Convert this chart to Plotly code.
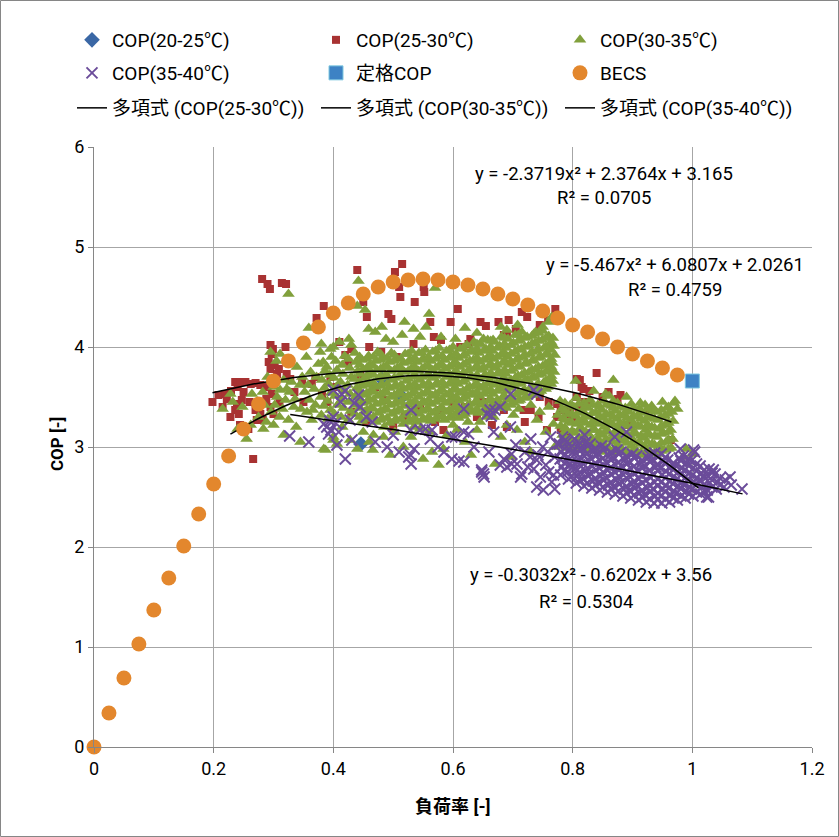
import numpy as np
import plotly.graph_objects as go

# ---- BECS curve and rated point ----
becs_load = [0.0, 0.025, 0.05, 0.075, 0.1, 0.125, 0.15, 0.175, 0.2, 0.225,
             0.25, 0.275, 0.3, 0.325, 0.35, 0.375, 0.4, 0.425, 0.45, 0.475,
             0.5, 0.525, 0.55, 0.575, 0.6, 0.625, 0.65, 0.675, 0.7, 0.725,
             0.75, 0.775, 0.8, 0.825, 0.85, 0.875, 0.9, 0.925, 0.95, 0.975]
becs_cop = [0.0, 0.34, 0.69, 1.03, 1.37, 1.69, 2.01, 2.33, 2.63, 2.91,
            3.18, 3.43, 3.66, 3.86, 4.04, 4.2, 4.34, 4.44, 4.53, 4.6,
            4.65, 4.67, 4.68, 4.67, 4.65, 4.62, 4.58, 4.53, 4.48, 4.42,
            4.36, 4.29, 4.22, 4.15, 4.08, 4.0, 3.93, 3.86, 3.79, 3.72]
rated_load = [1.0]
rated_cop = [3.66]

# ---- measured COP by outdoor temperature band (load ratio, COP) ----
cop20_25 = [(0.481, 3.68), (0.515, 3.50), (0.446, 3.03)]

cop25_30 = [
    (0.198, 3.45), (0.208, 3.52), (0.219, 3.53), (0.222, 3.48), (0.229, 3.56), (0.236, 3.65),
    (0.240, 3.60), (0.245, 3.65), (0.253, 3.65), (0.262, 3.63), (0.270, 3.64), (0.278, 3.62),
    (0.239, 3.43), (0.247, 3.47), (0.236, 3.37), (0.242, 3.33), (0.270, 3.37), (0.278, 3.33),
    (0.272, 3.27), (0.282, 3.27), (0.297, 3.53), (0.295, 3.40), (0.300, 3.33), (0.288, 3.48),
    (0.295, 4.02), (0.299, 3.98), (0.297, 3.93), (0.292, 3.85), (0.302, 3.82), (0.309, 3.78),
    (0.295, 3.78), (0.306, 3.73), (0.320, 4.00), (0.322, 3.73), (0.328, 3.68), (0.348, 3.65),
    (0.364, 3.63), (0.370, 3.70), (0.381, 3.52), (0.395, 3.70), (0.390, 3.45), (0.420, 3.92),
    (0.425, 3.85), (0.266, 2.88), (0.215, 3.40), (0.228, 3.30), (0.250, 3.55), (0.260, 3.45),
    (0.290, 3.60), (0.310, 3.45), (0.335, 3.55), (0.350, 3.45), (0.244, 3.22), (0.258, 3.18),
    (0.281, 4.68), (0.290, 4.63), (0.294, 4.58), (0.314, 4.64), (0.321, 4.63),
    (0.515, 4.83), (0.503, 4.75), (0.440, 4.77), (0.510, 4.60), (0.512, 4.50), (0.536, 4.45),
    (0.551, 4.60), (0.552, 4.55), (0.608, 4.38), (0.450, 4.45), (0.456, 4.30), (0.492, 4.33),
    (0.497, 4.28), (0.384, 4.41), (0.372, 4.29), (0.562, 4.25), (0.596, 4.25), (0.646, 4.25),
    (0.655, 4.21), (0.676, 4.25), (0.693, 4.27), (0.715, 4.35), (0.724, 4.30), (0.759, 4.27),
    (0.771, 4.38), (0.568, 4.10), (0.580, 4.07), (0.629, 4.08), (0.690, 4.12), (0.612, 4.00),
    (0.626, 4.03), (0.685, 4.12), (0.534, 4.03), (0.506, 3.90), (0.460, 4.00), (0.480, 3.95),
    (0.430, 3.98), (0.410, 4.05), (0.745, 4.22), (0.705, 4.18),
    (0.807, 3.68), (0.815, 3.60), (0.840, 3.74), (0.812, 3.67), (0.818, 3.58), (0.828, 3.56),
    (0.880, 3.52), (0.875, 3.48), (0.774, 3.43), (0.790, 3.33), (0.800, 3.30), (0.774, 3.30),
    (0.780, 3.17), (0.757, 3.17), (0.743, 3.30), (0.807, 3.50), (0.820, 3.45), (0.824, 3.43),
    (0.810, 3.40), (0.790, 3.37), (0.793, 3.13), (0.964, 3.07), (0.893, 3.22), (0.927, 3.38),
    (0.796, 3.37), (0.757, 3.65), (0.780, 3.37), (0.782, 3.17), (0.718, 3.37), (0.730, 3.37),
    (0.685, 3.37), (0.690, 3.20), (0.579, 3.37), (0.584, 3.17), (0.570, 3.25), (0.484, 3.47),
    (0.500, 3.20), (0.520, 3.30), (0.455, 3.25), (0.430, 3.35), (0.620, 3.40), (0.650, 3.45),
    (0.720, 3.25), (0.760, 3.45), (0.745, 3.50), (0.850, 3.50), (0.860, 3.55), (0.665, 3.22),
    (0.640, 3.30), (0.600, 3.45), (0.545, 3.38), (0.470, 3.60), (0.445, 3.72), (0.405, 3.60),
]

cop30_35 = [
    # dense band, load 0.38-0.77
    (0.380, 3.32), (0.384, 3.41), (0.379, 3.50), (0.385, 3.59), (0.381, 3.67), (0.386, 3.76), (0.383, 3.85),
    (0.391, 3.28), (0.395, 3.37), (0.390, 3.46), (0.396, 3.54), (0.392, 3.63), (0.394, 3.72), (0.389, 3.80), (0.397, 3.90),
    (0.402, 3.33), (0.407, 3.42), (0.403, 3.51), (0.405, 3.60), (0.401, 3.69), (0.406, 3.77), (0.404, 3.86),
    (0.413, 3.30), (0.417, 3.39), (0.414, 3.47), (0.418, 3.56), (0.412, 3.65), (0.416, 3.73), (0.415, 3.82), (0.419, 3.91),
    (0.425, 3.27), (0.429, 3.36), (0.426, 3.45), (0.428, 3.53), (0.424, 3.62), (0.430, 3.70), (0.427, 3.79), (0.425, 3.88),
    (0.436, 3.33), (0.440, 3.42), (0.437, 3.50), (0.439, 3.59), (0.435, 3.68), (0.441, 3.76), (0.438, 3.85), (0.436, 3.94),
    (0.448, 3.26), (0.452, 3.35), (0.449, 3.44), (0.451, 3.52), (0.447, 3.61), (0.453, 3.69), (0.450, 3.78), (0.448, 3.87),
    (0.459, 3.30), (0.463, 3.39), (0.460, 3.48), (0.462, 3.56), (0.458, 3.65), (0.464, 3.74), (0.461, 3.82), (0.459, 3.91),
    (0.471, 3.25), (0.475, 3.34), (0.472, 3.43), (0.474, 3.51), (0.470, 3.60), (0.476, 3.69), (0.473, 3.77), (0.471, 3.86), (0.474, 3.95),
    (0.482, 3.29), (0.486, 3.38), (0.483, 3.46), (0.485, 3.55), (0.481, 3.63), (0.487, 3.72), (0.484, 3.80), (0.482, 3.89),
    (0.494, 3.24), (0.498, 3.33), (0.495, 3.42), (0.497, 3.50), (0.493, 3.59), (0.499, 3.67), (0.496, 3.76), (0.494, 3.85), (0.497, 3.94),
    (0.505, 3.28), (0.509, 3.37), (0.506, 3.45), (0.508, 3.54), (0.504, 3.62), (0.510, 3.71), (0.507, 3.79), (0.505, 3.88),
    (0.517, 3.23), (0.521, 3.32), (0.518, 3.41), (0.520, 3.49), (0.516, 3.58), (0.522, 3.66), (0.519, 3.75), (0.517, 3.84), (0.520, 3.93),
    (0.528, 3.27), (0.532, 3.36), (0.529, 3.44), (0.531, 3.53), (0.527, 3.61), (0.533, 3.70), (0.530, 3.78), (0.528, 3.87), (0.531, 3.96),
    (0.540, 3.25), (0.544, 3.33), (0.541, 3.42), (0.543, 3.50), (0.539, 3.59), (0.545, 3.67), (0.542, 3.76), (0.540, 3.85), (0.543, 3.94),
    (0.551, 3.28), (0.555, 3.37), (0.552, 3.45), (0.554, 3.54), (0.550, 3.62), (0.556, 3.71), (0.553, 3.80), (0.551, 3.88), (0.554, 3.97),
    (0.563, 3.26), (0.567, 3.34), (0.564, 3.43), (0.566, 3.51), (0.562, 3.60), (0.568, 3.69), (0.565, 3.77), (0.563, 3.86), (0.566, 3.95),
    (0.574, 3.30), (0.578, 3.38), (0.575, 3.47), (0.577, 3.55), (0.573, 3.64), (0.579, 3.73), (0.576, 3.81), (0.574, 3.90), (0.577, 3.99),
    (0.586, 3.27), (0.590, 3.35), (0.587, 3.44), (0.589, 3.52), (0.585, 3.61), (0.591, 3.70), (0.588, 3.78), (0.586, 3.87), (0.589, 3.96),
    (0.597, 3.31), (0.601, 3.39), (0.598, 3.48), (0.600, 3.57), (0.596, 3.65), (0.602, 3.74), (0.599, 3.82), (0.597, 3.91), (0.600, 4.00),
    (0.609, 3.29), (0.613, 3.37), (0.610, 3.46), (0.612, 3.54), (0.608, 3.63), (0.614, 3.71), (0.611, 3.80), (0.609, 3.89), (0.612, 3.98),
    (0.620, 3.33), (0.624, 3.41), (0.621, 3.50), (0.623, 3.58), (0.619, 3.67), (0.625, 3.76), (0.622, 3.84), (0.620, 3.93), (0.623, 4.02),
    (0.632, 3.36), (0.636, 3.44), (0.633, 3.53), (0.635, 3.61), (0.631, 3.70), (0.637, 3.79), (0.634, 3.87), (0.632, 3.96), (0.635, 4.05),
    (0.643, 3.34), (0.647, 3.42), (0.644, 3.51), (0.646, 3.59), (0.642, 3.68), (0.648, 3.77), (0.645, 3.85), (0.643, 3.94), (0.646, 4.03),
    (0.655, 3.38), (0.659, 3.46), (0.656, 3.55), (0.658, 3.63), (0.654, 3.72), (0.660, 3.81), (0.657, 3.89), (0.655, 3.98), (0.658, 4.07),
    (0.666, 3.36), (0.670, 3.44), (0.667, 3.53), (0.669, 3.62), (0.665, 3.70), (0.671, 3.79), (0.668, 3.88), (0.666, 3.96), (0.669, 4.05),
    (0.678, 3.41), (0.682, 3.49), (0.679, 3.58), (0.681, 3.66), (0.677, 3.75), (0.683, 3.84), (0.680, 3.92), (0.678, 4.01), (0.681, 4.10),
    (0.689, 3.39), (0.693, 3.47), (0.690, 3.56), (0.692, 3.65), (0.688, 3.73), (0.694, 3.82), (0.691, 3.90), (0.689, 3.99), (0.692, 4.08),
    (0.701, 3.44), (0.705, 3.52), (0.702, 3.61), (0.704, 3.69), (0.700, 3.78), (0.706, 3.87), (0.703, 3.95), (0.701, 4.04), (0.704, 4.12),
    (0.712, 3.47), (0.716, 3.55), (0.713, 3.64), (0.715, 3.72), (0.711, 3.81), (0.717, 3.90), (0.714, 3.98), (0.712, 4.07), (0.715, 4.15),
    (0.724, 3.50), (0.728, 3.58), (0.725, 3.67), (0.727, 3.75), (0.723, 3.84), (0.729, 3.93), (0.726, 4.01), (0.724, 4.10),
    (0.735, 3.53), (0.739, 3.61), (0.736, 3.70), (0.738, 3.78), (0.734, 3.87), (0.740, 3.96), (0.737, 4.04), (0.735, 4.13),
    (0.747, 3.56), (0.751, 3.64), (0.748, 3.73), (0.750, 3.81), (0.746, 3.90), (0.752, 3.99), (0.749, 4.07), (0.750, 4.16),
    (0.758, 3.60), (0.762, 3.68), (0.759, 3.77), (0.761, 3.85), (0.757, 3.94), (0.763, 4.02), (0.760, 4.11),
    (0.767, 3.66), (0.769, 3.75), (0.766, 3.84), (0.770, 3.92), (0.768, 4.01), (0.767, 4.09),
    # high-load group, load 0.78-0.97
    (0.781, 3.04), (0.783, 3.12), (0.780, 3.21), (0.784, 3.29), (0.782, 3.38), (0.779, 3.46),
    (0.792, 2.99), (0.795, 3.08), (0.791, 3.16), (0.794, 3.25), (0.793, 3.33), (0.796, 3.42),
    (0.804, 2.97), (0.806, 3.06), (0.803, 3.14), (0.807, 3.23), (0.805, 3.31), (0.802, 3.40), (0.806, 3.49),
    (0.815, 3.02), (0.818, 3.10), (0.814, 3.19), (0.817, 3.27), (0.816, 3.36), (0.819, 3.44),
    (0.827, 2.96), (0.829, 3.05), (0.826, 3.13), (0.830, 3.22), (0.828, 3.30), (0.825, 3.39), (0.829, 3.47),
    (0.838, 3.00), (0.841, 3.08), (0.837, 3.17), (0.840, 3.25), (0.839, 3.34), (0.842, 3.42),
    (0.850, 2.95), (0.852, 3.03), (0.849, 3.12), (0.853, 3.20), (0.851, 3.29), (0.848, 3.37), (0.852, 3.46),
    (0.861, 2.98), (0.864, 3.07), (0.860, 3.15), (0.863, 3.24), (0.862, 3.32), (0.865, 3.41), (0.861, 3.51),
    (0.873, 2.94), (0.875, 3.02), (0.872, 3.11), (0.876, 3.19), (0.874, 3.28), (0.871, 3.36), (0.875, 3.44),
    (0.884, 2.97), (0.887, 3.06), (0.883, 3.14), (0.886, 3.23), (0.885, 3.31), (0.888, 3.39),
    (0.896, 2.93), (0.898, 3.01), (0.895, 3.10), (0.899, 3.18), (0.897, 3.27), (0.894, 3.35), (0.898, 3.43),
    (0.907, 2.96), (0.910, 3.04), (0.906, 3.13), (0.909, 3.21), (0.908, 3.30), (0.911, 3.38),
    (0.919, 2.92), (0.921, 3.00), (0.918, 3.09), (0.922, 3.17), (0.920, 3.26), (0.917, 3.34), (0.921, 3.42),
    (0.930, 2.95), (0.933, 3.03), (0.929, 3.12), (0.932, 3.20), (0.931, 3.29), (0.934, 3.37),
    (0.942, 2.93), (0.944, 3.01), (0.941, 3.10), (0.945, 3.18), (0.943, 3.27), (0.940, 3.35),
    (0.953, 2.97), (0.956, 3.05), (0.952, 3.14), (0.955, 3.22), (0.954, 3.31), (0.957, 3.39),
    (0.965, 2.99), (0.967, 3.08), (0.964, 3.17), (0.968, 3.26), (0.966, 3.35), (0.969, 3.44),
    (0.805, 3.66), (0.855, 3.53), (0.868, 3.67), (0.913, 3.44), (0.932, 3.41), (0.971, 3.46),
    (0.835, 3.56), (0.890, 3.50), (0.950, 3.45), (0.975, 3.38), (0.990, 2.98), (1.000, 2.93), (0.985, 2.90),
    # low-load scatter, load 0.21-0.40
    (0.228, 3.53), (0.264, 3.53), (0.282, 3.55), (0.283, 3.18), (0.296, 3.35), (0.300, 3.60), (0.306, 3.50),
    (0.311, 3.57), (0.317, 3.67), (0.311, 3.93), (0.305, 3.86), (0.320, 3.47), (0.327, 3.55), (0.334, 3.40),
    (0.339, 3.80), (0.344, 3.62), (0.346, 3.38), (0.356, 3.35), (0.360, 3.47), (0.364, 3.27), (0.370, 3.42),
    (0.375, 3.83), (0.378, 3.95), (0.372, 3.70), (0.395, 3.98), (0.387, 2.97), (0.400, 3.07), (0.348, 3.70),
    (0.295, 3.95), (0.317, 3.12), (0.325, 3.27), (0.338, 3.20), (0.352, 3.55), (0.362, 3.75), (0.285, 3.42),
    (0.275, 3.30), (0.262, 3.22), (0.248, 3.40), (0.240, 3.18), (0.255, 3.08), (0.232, 3.45), (0.310, 3.30),
    (0.330, 3.65), (0.355, 3.90), (0.368, 3.58), (0.300, 3.22), (0.290, 3.70), (0.345, 3.05), (0.215, 3.38),
    (0.288, 3.25), (0.302, 3.42), (0.315, 3.38), (0.322, 3.58), (0.336, 3.48), (0.358, 3.62), (0.366, 3.37),
    # upper outliers
    (0.325, 4.53), (0.442, 4.66), (0.359, 4.19), (0.570, 4.59), (0.560, 4.33), (0.440, 4.41), (0.453, 4.37),
    (0.519, 4.25), (0.459, 4.18), (0.470, 4.15), (0.481, 4.20), (0.426, 4.08), (0.430, 4.02), (0.515, 4.12),
    (0.534, 4.18), (0.545, 4.10), (0.555, 4.20), (0.620, 4.19), (0.604, 4.08), (0.651, 4.08), (0.667, 4.07),
    (0.690, 4.17), (0.738, 4.15), (0.750, 4.20), (0.760, 4.25), (0.765, 4.30), (0.708, 4.22), (0.680, 4.20),
    (0.640, 4.14), (0.580, 4.10), (0.400, 4.00), (0.410, 4.05), (0.380, 4.03), (0.500, 4.05), (0.488, 4.08),
    # lower scatter, load 0.38-0.78
    (0.384, 2.98), (0.400, 3.10), (0.406, 3.03), (0.428, 3.07), (0.440, 2.98), (0.466, 2.97), (0.467, 3.12),
    (0.484, 3.10), (0.485, 3.20), (0.503, 3.15), (0.517, 3.00), (0.530, 3.10), (0.545, 3.18), (0.565, 2.95),
    (0.576, 2.82), (0.584, 2.98), (0.590, 3.12), (0.607, 3.17), (0.620, 3.05), (0.640, 3.17), (0.645, 3.25),
    (0.668, 3.30), (0.670, 2.83), (0.680, 3.10), (0.690, 3.22), (0.701, 3.32), (0.707, 3.17), (0.720, 3.05),
    (0.740, 3.27), (0.745, 3.35), (0.755, 3.15), (0.768, 3.23), (0.775, 3.32), (0.760, 3.40), (0.730, 3.42),
    (0.710, 3.38), (0.655, 3.30), (0.625, 3.25), (0.600, 3.22), (0.560, 3.15), (0.535, 3.20), (0.450, 3.15),
    (0.415, 3.20), (0.460, 3.05), (0.495, 2.92), (0.550, 2.88), (0.630, 2.92), (0.695, 2.90), (0.730, 2.95),
    (0.770, 3.00),
]

# further 30-35 readings in the dense bands, grouped by load ratio: (load, [COP values])
cop30_35_dense = [
    (0.444, [3.30, 3.39, 3.48, 3.56, 3.65, 3.73, 3.82, 3.90]),
    (0.456, [3.28, 3.37, 3.45, 3.54, 3.62, 3.71, 3.79, 3.88]),
    (0.467, [3.30, 3.38, 3.47, 3.55, 3.64, 3.72, 3.81, 3.90]),
    (0.479, [3.27, 3.36, 3.44, 3.53, 3.61, 3.70, 3.78, 3.87, 3.93]),
    (0.490, [3.29, 3.37, 3.46, 3.54, 3.63, 3.71, 3.80, 3.89]),
    (0.502, [3.26, 3.35, 3.43, 3.52, 3.60, 3.69, 3.77, 3.86, 3.92]),
    (0.513, [3.28, 3.36, 3.45, 3.53, 3.62, 3.70, 3.79, 3.88]),
    (0.525, [3.25, 3.34, 3.42, 3.51, 3.59, 3.68, 3.76, 3.85, 3.93]),
    (0.536, [3.29, 3.37, 3.46, 3.55, 3.63, 3.72, 3.80, 3.89]),
    (0.548, [3.27, 3.36, 3.44, 3.53, 3.61, 3.70, 3.78, 3.87, 3.94]),
    (0.559, [3.30, 3.38, 3.47, 3.55, 3.64, 3.73, 3.81, 3.90]),
    (0.571, [3.28, 3.36, 3.45, 3.53, 3.62, 3.71, 3.79, 3.88, 3.96]),
    (0.582, [3.31, 3.39, 3.48, 3.57, 3.65, 3.74, 3.82, 3.91]),
    (0.594, [3.29, 3.37, 3.46, 3.54, 3.63, 3.72, 3.80, 3.89, 3.97]),
    (0.605, [3.33, 3.41, 3.50, 3.58, 3.67, 3.76, 3.84, 3.93]),
    (0.617, [3.31, 3.39, 3.48, 3.56, 3.65, 3.74, 3.82, 3.91, 3.99]),
    (0.628, [3.35, 3.43, 3.52, 3.60, 3.69, 3.78, 3.86, 3.95]),
    (0.640, [3.38, 3.46, 3.55, 3.63, 3.72, 3.81, 3.89, 3.98, 4.03]),
    (0.651, [3.36, 3.44, 3.53, 3.61, 3.70, 3.79, 3.87, 3.96]),
    (0.663, [3.40, 3.48, 3.57, 3.65, 3.74, 3.83, 3.91, 4.00, 4.06]),
    (0.674, [3.39, 3.47, 3.56, 3.64, 3.73, 3.82, 3.90, 3.99]),
    (0.686, [3.43, 3.51, 3.60, 3.68, 3.77, 3.86, 3.94, 4.03, 4.09]),
    (0.697, [3.42, 3.50, 3.59, 3.67, 3.76, 3.85, 3.93, 4.02]),
    (0.709, [3.46, 3.54, 3.63, 3.71, 3.80, 3.89, 3.97, 4.06, 4.12]),
    (0.720, [3.49, 3.57, 3.66, 3.74, 3.83, 3.92, 4.00, 4.09]),
    (0.732, [3.52, 3.60, 3.69, 3.77, 3.86, 3.95, 4.03, 4.11]),
    (0.743, [3.55, 3.63, 3.72, 3.80, 3.89, 3.98, 4.06, 4.14]),
    (0.755, [3.58, 3.66, 3.75, 3.83, 3.92, 4.00, 4.09]),
    (0.764, [3.63, 3.71, 3.80, 3.88, 3.97, 4.05]),
    (0.787, [3.02, 3.10, 3.19, 3.27, 3.36, 3.44]),
    (0.799, [2.99, 3.07, 3.16, 3.24, 3.33, 3.41]),
    (0.810, [3.00, 3.09, 3.17, 3.26, 3.34, 3.43]),
    (0.822, [2.98, 3.07, 3.15, 3.24, 3.32, 3.41]),
    (0.833, [3.00, 3.08, 3.17, 3.25, 3.34, 3.42]),
    (0.845, [2.97, 3.06, 3.14, 3.23, 3.31, 3.40]),
    (0.856, [2.99, 3.08, 3.16, 3.25, 3.33, 3.42]),
    (0.868, [2.96, 3.05, 3.13, 3.22, 3.30, 3.39, 3.46]),
    (0.879, [2.98, 3.07, 3.15, 3.24, 3.32, 3.40]),
    (0.891, [2.95, 3.04, 3.12, 3.21, 3.29, 3.37]),
    (0.902, [2.97, 3.06, 3.14, 3.23, 3.31, 3.39]),
    (0.914, [2.94, 3.03, 3.11, 3.20, 3.28, 3.36]),
    (0.925, [2.96, 3.05, 3.13, 3.22, 3.30, 3.38]),
    (0.937, [2.94, 3.02, 3.11, 3.19, 3.28, 3.36]),
    (0.948, [2.96, 3.04, 3.13, 3.21, 3.30, 3.37]),
    (0.960, [2.98, 3.07, 3.15, 3.24, 3.33, 3.40]),
]

cop35_40 = [
    # high-load cluster
    (0.780, 2.72), (0.782, 2.80), (0.779, 2.88), (0.781, 2.95), (0.778, 3.03), (0.783, 3.10),
    (0.793, 2.68), (0.791, 2.75), (0.795, 2.83), (0.792, 2.90), (0.794, 2.98), (0.790, 3.05),
    (0.806, 2.64), (0.808, 2.71), (0.804, 2.79), (0.807, 2.86), (0.805, 2.94), (0.809, 3.01), (0.803, 3.08),
    (0.819, 2.61), (0.817, 2.68), (0.821, 2.76), (0.818, 2.83), (0.820, 2.91), (0.816, 2.98), (0.822, 3.05),
    (0.832, 2.59), (0.834, 2.66), (0.830, 2.73), (0.833, 2.81), (0.831, 2.88), (0.835, 2.96), (0.829, 3.03),
    (0.845, 2.57), (0.843, 2.64), (0.847, 2.71), (0.844, 2.79), (0.846, 2.86), (0.842, 2.93), (0.848, 3.01),
    (0.858, 2.55), (0.860, 2.62), (0.856, 2.69), (0.859, 2.77), (0.857, 2.84), (0.861, 2.91), (0.855, 2.99),
    (0.871, 2.53), (0.869, 2.60), (0.873, 2.67), (0.870, 2.75), (0.872, 2.82), (0.868, 2.89), (0.874, 2.97),
    (0.884, 2.51), (0.886, 2.58), (0.882, 2.65), (0.885, 2.72), (0.883, 2.80), (0.887, 2.87), (0.881, 2.95),
    (0.897, 2.49), (0.895, 2.56), (0.899, 2.63), (0.896, 2.70), (0.898, 2.78), (0.894, 2.85), (0.900, 2.93),
    (0.910, 2.47), (0.912, 2.54), (0.908, 2.61), (0.911, 2.68), (0.909, 2.76), (0.913, 2.83), (0.907, 2.91),
    (0.923, 2.45), (0.921, 2.52), (0.925, 2.59), (0.922, 2.67), (0.924, 2.74), (0.920, 2.81), (0.926, 2.89),
    (0.936, 2.44), (0.938, 2.51), (0.934, 2.58), (0.937, 2.65), (0.935, 2.72), (0.939, 2.80), (0.933, 2.87), (0.937, 2.94),
    (0.949, 2.44), (0.947, 2.51), (0.951, 2.58), (0.948, 2.65), (0.950, 2.72), (0.946, 2.79), (0.952, 2.86), (0.948, 2.93),
    (0.962, 2.45), (0.964, 2.52), (0.960, 2.59), (0.963, 2.66), (0.961, 2.73), (0.965, 2.80), (0.959, 2.87),
    (0.975, 2.47), (0.973, 2.54), (0.977, 2.61), (0.974, 2.68), (0.976, 2.75), (0.972, 2.82), (0.978, 2.89),
    (0.988, 2.49), (0.990, 2.56), (0.986, 2.63), (0.989, 2.70), (0.987, 2.77), (0.991, 2.84), (0.985, 2.91),
    (1.001, 2.51), (0.999, 2.58), (1.003, 2.65), (1.000, 2.72), (1.002, 2.79), (0.998, 2.86), (1.004, 2.95),
    (1.014, 2.53), (1.016, 2.60), (1.012, 2.67), (1.015, 2.74), (1.013, 2.81),
    (1.027, 2.50), (1.025, 2.57), (1.029, 2.64), (1.026, 2.71), (1.028, 2.78),
    (1.040, 2.58), (1.042, 2.65), (1.038, 2.73), (1.053, 2.60), (1.055, 2.67),
    (1.063, 2.70), (1.065, 2.62), (1.083, 2.58), (1.035, 2.77), (1.024, 2.50), (1.002, 2.97),
    (0.890, 3.15), (0.870, 3.10), (0.820, 3.12), (0.980, 2.98),
    # load 0.70-0.78
    (0.705, 3.02), (0.713, 2.70), (0.729, 2.90), (0.740, 2.87), (0.746, 2.70), (0.751, 2.57),
    (0.763, 3.10), (0.774, 3.03), (0.740, 2.60), (0.715, 2.73), (0.698, 2.83), (0.720, 2.95),
    (0.735, 2.78), (0.755, 2.82), (0.765, 2.65), (0.770, 2.90), (0.760, 2.75), (0.750, 3.00),
    (0.730, 3.08), (0.770, 2.58), (0.758, 2.95), (0.742, 2.92), (0.725, 2.80), (0.768, 2.72),
    # scattered, load 0.32-0.70
    (0.327, 3.11), (0.359, 3.05), (0.406, 3.02), (0.420, 2.88), (0.431, 3.07), (0.428, 3.27),
    (0.389, 3.20), (0.394, 3.26), (0.400, 3.30), (0.404, 3.24), (0.396, 3.17), (0.409, 3.15),
    (0.384, 3.23), (0.392, 3.13), (0.414, 3.53), (0.420, 3.56), (0.412, 3.45), (0.442, 3.52),
    (0.400, 3.57), (0.435, 3.44), (0.445, 3.40), (0.530, 3.37), (0.526, 2.90), (0.530, 2.83),
    (0.554, 3.18), (0.565, 3.17), (0.598, 3.10), (0.618, 3.38), (0.626, 3.13), (0.598, 2.88),
    (0.618, 2.85), (0.648, 2.75), (0.657, 3.33), (0.670, 3.37), (0.668, 3.15), (0.696, 3.53),
    (0.735, 3.57), (0.696, 3.20), (0.651, 2.73), (0.679, 2.82), (0.698, 2.93), (0.529, 3.17),
    (0.545, 3.17), (0.562, 3.08), (0.604, 3.10), (0.618, 3.15), (0.529, 2.92), (0.535, 2.98),
    (0.610, 2.86), (0.648, 2.77), (0.652, 2.70), (0.685, 2.88), (0.690, 2.80), (0.707, 2.83),
    (0.662, 3.37), (0.664, 3.31), (0.679, 3.40), (0.740, 3.53), (0.470, 3.05), (0.490, 3.00),
    (0.500, 3.12), (0.510, 2.95), (0.575, 3.00), (0.585, 2.95), (0.635, 3.00), (0.660, 2.95),
    (0.455, 3.30), (0.465, 3.25),
]

# further 35-40 readings in the high-load cluster: (load, [COP values])
cop35_40_dense = [
    (0.786, [2.76, 2.84, 2.91, 2.99, 3.06]),
    (0.799, [2.71, 2.79, 2.86, 2.94, 3.01]),
    (0.812, [2.67, 2.75, 2.82, 2.90, 2.97, 3.04]),
    (0.825, [2.64, 2.72, 2.79, 2.87, 2.94, 3.01]),
    (0.838, [2.62, 2.69, 2.77, 2.84, 2.92, 2.99]),
    (0.851, [2.60, 2.67, 2.75, 2.82, 2.89, 2.97]),
    (0.864, [2.58, 2.65, 2.73, 2.80, 2.87, 2.95]),
    (0.877, [2.56, 2.63, 2.71, 2.78, 2.85, 2.93]),
    (0.890, [2.54, 2.61, 2.69, 2.76, 2.83, 2.91]),
    (0.903, [2.52, 2.59, 2.66, 2.74, 2.81, 2.89]),
    (0.916, [2.50, 2.57, 2.64, 2.72, 2.79, 2.87]),
    (0.929, [2.48, 2.55, 2.62, 2.70, 2.77, 2.85, 2.92]),
    (0.942, [2.47, 2.54, 2.61, 2.68, 2.76, 2.83, 2.90]),
    (0.955, [2.48, 2.55, 2.62, 2.69, 2.76, 2.83, 2.90]),
    (0.968, [2.49, 2.56, 2.63, 2.70, 2.77, 2.84]),
    (0.981, [2.51, 2.58, 2.65, 2.72, 2.79, 2.86]),
    (0.994, [2.53, 2.60, 2.67, 2.74, 2.81, 2.88]),
    (1.007, [2.55, 2.62, 2.69, 2.76, 2.83]),
    (1.020, [2.56, 2.63, 2.70, 2.77]),
    (1.033, [2.60, 2.67, 2.74]),
    (1.046, [2.62, 2.69]),
]

# ---- quadratic trend lines: coefficients (x^2, x, 1) and fitted load range ----
poly25_30 = [-2.3719, 2.3764, 3.165]
poly30_35 = [-5.467, 6.0807, 2.0261]
poly35_40 = [-0.3032, -0.6202, 3.56]
span25_30 = [0.198, 0.965]
span30_35 = [0.228, 1.010]
span35_40 = [0.328, 1.084]

FONT = "Roboto, 'Noto Sans CJK JP', sans-serif"
RED = "#A83232"
GREEN = "#81A03C"
PURPLE = "#6B4C9A"
BLUE = "#3A67A5"
ORANGE = "#E3872D"

# legend grid: left edge of each column, vertical centre of each row (pixels)
legend_cols = [72, 316, 560]
legend_rows = [40, 73, 108]


def expand(groups):
    return [(x, y) for x, col in groups for y in col]


def xs(pts):
    return [p[0] for p in pts]


def ys(pts):
    return [p[1] for p in pts]


pts30_35 = cop30_35 + expand(cop30_35_dense)
pts35_40 = cop35_40 + expand(cop35_40_dense)

fig = go.Figure()

fig.add_trace(go.Scatter(x=xs(cop20_25), y=ys(cop20_25), mode="markers", name="COP(20-25℃)",
                         marker=dict(symbol="diamond", size=12, color=BLUE), legend="legend"))
fig.add_trace(go.Scatter(x=xs(cop25_30), y=ys(cop25_30), mode="markers", name="COP(25-30℃)",
                         marker=dict(symbol="square", size=8, color=RED), legend="legend2"))
fig.add_trace(go.Scatter(x=xs(pts30_35), y=ys(pts30_35), mode="markers", name="COP(30-35℃)",
                         marker=dict(symbol="triangle-up", size=11, color=GREEN), legend="legend3"))
fig.add_trace(go.Scatter(x=xs(pts35_40), y=ys(pts35_40), mode="markers", name="COP(35-40℃)",
                         marker=dict(symbol="x-thin", size=11, color=PURPLE,
                                     line=dict(color=PURPLE, width=1.9)), legend="legend4"))

for i, (label, coefs, span) in enumerate([("多項式 (COP(25-30℃))", poly25_30, span25_30),
                                          ("多項式 (COP(30-35℃))", poly30_35, span30_35),
                                          ("多項式 (COP(35-40℃))", poly35_40, span35_40)]):
    lx = np.linspace(span[0], span[1], 80)
    fig.add_trace(go.Scatter(x=lx, y=np.polyval(coefs, lx), mode="lines", name=label,
                             line=dict(color="black", width=1.5), legend=f"legend{7 + i}"))

fig.add_trace(go.Scatter(x=rated_load, y=rated_cop, mode="markers", name="定格COP",
                         marker=dict(symbol="square", size=14, color="#3D82C4",
                                     line=dict(color="#7FC8E0", width=1)), legend="legend5"))
fig.add_trace(go.Scatter(x=becs_load, y=becs_cop, mode="markers", name="BECS", cliponaxis=False,
                         marker=dict(symbol="circle", size=15, color=ORANGE), legend="legend6"))

# trend line equations
eq_font = dict(family=FONT, size=18.5, color="black")
equations = [
    (0.853, 5.727, "y = -2.3719x² + 2.3764x + 3.165"), (0.853, 5.487, "R² = 0.0705"),
    (0.971, 4.817, "y = -5.467x² + 6.0807x + 2.0261"), (0.971, 4.567, "R² = 0.4759"),
    (0.831, 1.717, "y = -0.3032x² - 0.6202x + 3.56"), (0.823, 1.447, "R² = 0.5304"),
]
for ex, ey, txt in equations:
    fig.add_annotation(x=ex, y=ey, xref="x", yref="y", text=txt, showarrow=False,
                       font=eq_font, xanchor="center", yanchor="middle")

# axis titles
title_font = dict(family=FONT, size=18, color="black")
fig.add_annotation(x=0.5, y=(747 - 806) / 600, xref="paper", yref="paper", text="<b>負荷率 [-]</b>",
                   showarrow=False, font=title_font, xanchor="center", yanchor="middle")
fig.add_annotation(x=(57 - 94) / 718, y=(747 - 444) / 600, xref="paper", yref="paper",
                   text="<b>COP [-]</b>", textangle=-90, showarrow=False,
                   font=dict(family=FONT, size=17, color="black"), xanchor="center", yanchor="middle")

# chart-area frame
fig.add_shape(type="rect", xref="paper", yref="paper",
              x0=(0.5 - 94) / 718, x1=(838.5 - 94) / 718,
              y0=(747 - 836.5) / 600, y1=(747 - 0.5) / 600,
              line=dict(color="#868686", width=1), layer="below")

# one legend box per entry, laid out on a 3 x 3 grid
legend_boxes = {}
for k in range(9):
    row, col = divmod(k, 3)
    key = "legend" if k == 0 else f"legend{k + 1}"
    legend_boxes[key] = dict(orientation="h", xanchor="left", yanchor="middle",
                             x=(legend_cols[col] - 94) / 718,
                             y=(747 - legend_rows[row]) / 600,
                             bgcolor="rgba(0,0,0,0)", borderwidth=0,
                             font=dict(family=FONT, size=19, color="black"))

fig.update_layout(
    width=839, height=837,
    margin=dict(l=94, r=27, t=147, b=90),
    paper_bgcolor="white", plot_bgcolor="white",
    font=dict(family=FONT, size=17, color="black"),
    showlegend=True,
    **legend_boxes,
    xaxis=dict(range=[0, 1.2], dtick=0.2, tick0=0, showgrid=True, gridcolor="#A6A6A6", gridwidth=1,
               zeroline=False, showline=True, linecolor="#868686", linewidth=1,
               ticks="outside", ticklen=5, tickcolor="#868686",
               tickfont=dict(family=FONT, size=18, color="black")),
    yaxis=dict(range=[0, 6], dtick=1, tick0=0, showgrid=True, gridcolor="#A6A6A6", gridwidth=1,
               zeroline=False, showline=True, linecolor="#868686", linewidth=1,
               ticks="outside", ticklen=5, tickcolor="#868686",
               tickfont=dict(family=FONT, size=18, color="black")),
)

fig.write_html("out.html")
